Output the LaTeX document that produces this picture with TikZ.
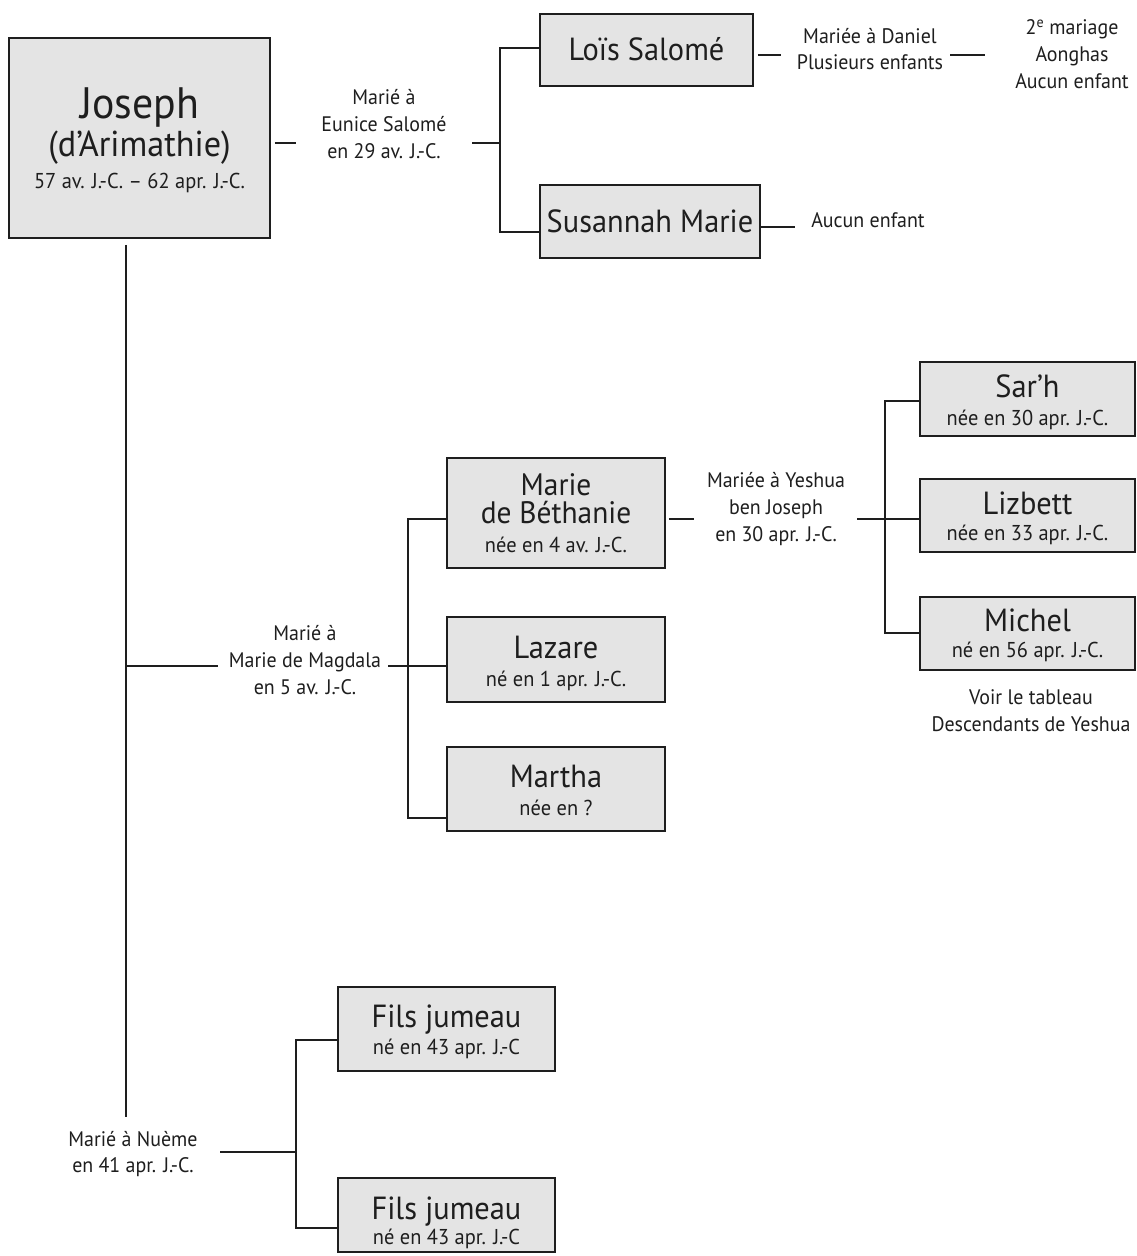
\documentclass[tikz,border=0pt]{standalone}
\usepackage{fontspec}
\setmainfont{PT Sans}[FakeStretch=0.95]
\definecolor{boxfill}{HTML}{E4E4E4}
\definecolor{ink}{HTML}{1E1E1E}
\begin{document}
\begin{tikzpicture}[x=1pt,y=-1pt,
  box/.style={draw=ink, line width=1.8pt, fill=boxfill, inner sep=0pt, rectangle},
  conn/.style={draw=ink, line width=1.5pt},
  txt/.style={text=ink, inner sep=0pt, anchor=base},
  lbl/.style={text=ink, inner sep=0pt, align=center, font=\fontsize{21}{26.7}\selectfont},
  title/.style={txt, font=\fontsize{32}{34}\selectfont},
  sub/.style={txt, font=\fontsize{21.5}{24}\selectfont}]
\fill[white] (0,0) rectangle (1137,1256);
\useasboundingbox (0,0) rectangle (1137,1256);

% ---------- boxes ----------
\node[box, minimum width=261pt, minimum height=200pt] (joseph) at (139.5,138) {};
\node[box, minimum width=213pt, minimum height=72pt] (lois) at (646.5,50) {};
\node[box, minimum width=220pt, minimum height=73pt] (susannah) at (650,221.5) {};
\node[box, minimum width=218pt, minimum height=110pt] (marieb) at (556,513) {};
\node[box, minimum width=218pt, minimum height=85pt] (lazare) at (556,659.5) {};
\node[box, minimum width=218pt, minimum height=84pt] (martha) at (556,789) {};
\node[box, minimum width=215pt, minimum height=74pt] (sarh) at (1027.5,399) {};
\node[box, minimum width=215pt, minimum height=73pt] (lizbett) at (1027.5,515.5) {};
\node[box, minimum width=215pt, minimum height=73pt] (michel) at (1027.5,633.5) {};
\node[box, minimum width=217pt, minimum height=84pt] (fils1) at (446.5,1029) {};
\node[box, minimum width=217pt, minimum height=74pt] (fils2) at (446.5,1215) {};

% ---------- box texts ----------
\node[txt, font=\fontsize{44}{46}\selectfont] (josephT) at (139.5,118) {Joseph};
\node[txt, font=\fontsize{36}{38}\selectfont] (josephA) at (139.5,156) {(d’Arimathie)};
\node[sub] (josephD) at (139.5,188) {57 av. J.-C. – 62 apr. J.-C.};

\node[title] (loisT) at (646.5,60) {Loïs Salomé};
\node[title] (susT) at (650,232) {Susannah Marie};

\node[text=ink, inner sep=0pt, align=center, font=\fontsize{31}{28}\selectfont] (marieT) at (556,499) {Marie\\de Béthanie};
\node[sub] (marieS) at (556,552) {née en 4 av. J.-C.};

\node[title] (lazT) at (556,658) {Lazare};
\node[sub] (lazS) at (556,686) {né en 1 apr. J.-C.};

\node[title] (marT) at (556,787) {Martha};
\node[sub] (marS) at (556,815) {née en ?};

\node[title] (sarT) at (1027.5,397) {Sar’h};
\node[sub] (sarS) at (1027.5,425) {née en 30 apr. J.-C.};

\node[title] (lizT) at (1027.5,514) {Lizbett};
\node[sub] (lizS) at (1027.5,540) {née en 33 apr. J.-C.};

\node[title] (micT) at (1027.5,631) {Michel};
\node[sub] (micS) at (1027.5,657) {né en 56 apr. J.-C.};

\node[title] (f1T) at (446.5,1027) {Fils jumeau};
\node[sub] (f1S) at (446.5,1054) {né en 43 apr. J.-C};

\node[title] (f2T) at (446.5,1219) {Fils jumeau};
\node[sub] (f2S) at (446.5,1244) {né en 43 apr. J.-C};

% ---------- labels ----------
\node[lbl] (lab1) at (384,124) {Marié à\\Eunice Salomé\\en 29 av. J.-C.};
\node[lbl] (labDan) at (870,49) {Mariée à Daniel\\Plusieurs enfants};
\node[lbl] (lab2e) at (1072,54) {2\textsuperscript{e} mariage\\Aonghas\\Aucun enfant};
\node[lbl] (labAuc) at (868,220) {Aucun enfant};
\node[lbl] (labMag) at (305,660) {Marié à\\Marie de Magdala\\en 5 av. J.-C.};
\node[lbl] (labYes) at (776,509) {Mariée à Yeshua\\ben Joseph\\en 30 apr. J.-C.};
\node[lbl] (labVoir) at (1031,711) {Voir le tableau\\Descendants de Yeshua};
\node[lbl] (labNue) at (133,1154) {Marié à Nuème\\en 41 apr. J.-C.};

% ---------- connector coordinates ----------
\coordinate (forkA) at (500,143);
\coordinate (forkB) at (408,666);
\coordinate (forkC) at (885,519);
\coordinate (forkD) at (296,1152);
\coordinate (trunkEnd) at (126,1117);
\coordinate (danEnd) at (950,55);
\coordinate (aucEnd) at (795,227);

% ---------- connectors ----------
% Joseph -> first marriage
\draw[conn] ([xshift=4pt]joseph.east |- forkA) -- ++(21,0);
\draw[conn] ([xshift=-28pt]forkA) -- (forkA);
\draw[conn] (lois.west |- 0,48) -| (forkA) |- (susannah.west |- 0,232);
\draw[conn] ([xshift=4pt]lois.east |- danEnd) -- ++(23,0);
\draw[conn] (danEnd) -- ++(35,0);
\draw[conn] (susannah.east |- aucEnd) -- (aucEnd);

% trunk
\draw[conn] ([yshift=-6pt]joseph.south -| trunkEnd) -- (trunkEnd);
\draw[conn] (trunkEnd |- forkB) -- ++(92,0);

% second marriage
\draw[conn] ([xshift=-20pt]forkB) -- (forkB);
\draw[conn] (marieb.west |- 0,519) -| (forkB) |- (martha.west |- 0,818);
\draw[conn] (forkB) -- (lazare.west |- forkB);
\draw[conn] ([xshift=3pt]marieb.east |- forkC) -- ++(25,0);
\draw[conn] ([xshift=-28pt]forkC) -- (lizbett.west |- forkC);
\draw[conn] (sarh.west |- 0,401) -| (forkC) |- (michel.west |- 0,633);

% third marriage
\draw[conn] ([xshift=-76pt]forkD) -- (forkD);
\draw[conn] (fils1.west |- 0,1040) -| (forkD) |- (fils2.west |- 0,1228);
\end{tikzpicture}
\end{document}
